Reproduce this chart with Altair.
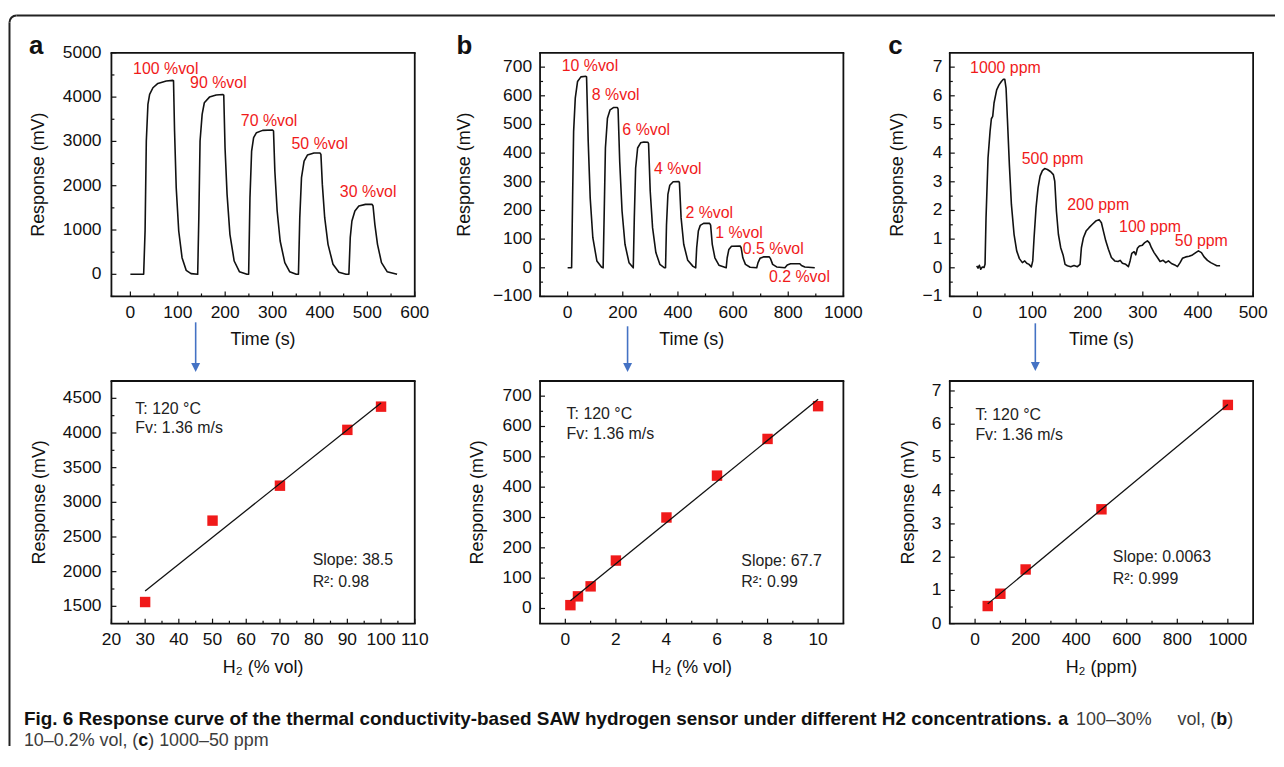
import altair as alt
import pandas as pd

FONT = "Liberation Sans"
RED = "#f01a1a"
BLUE = "#4472c4"
INK = "#111111"

# ---------------- panel a (top): time response, 100-30 %vol ----------------
a_curve = [(0, 0), (28, 0), (31, 980), (33.6, 3008), (37, 3835), (40.6, 4060), (47.6, 4211),
           (58, 4309), (75.7, 4362), (89.7, 4377), (91, 4370), (93.2, 3234), (96.7, 1955),
           (102, 978), (109, 376), (117.7, 90), (128, 15), (142, 0),
           (144.4, 1278), (147, 3008), (151.4, 3610), (156, 3873), (166.8, 4000), (181, 4046),
           (194.8, 4060), (197, 4046), (199.7, 2858), (204, 1805), (210, 902), (219, 300),
           (230, 60), (246, 0), (249.5, 0),
           (252.3, 1730), (255.8, 2782), (260, 3083), (266, 3196), (279, 3249), (300, 3256),
           (302, 3234), (304.8, 2331), (309.7, 1429), (316, 752), (325.8, 263), (336, 60),
           (350, 0), (354.6, 0),
           (357.4, 1278), (361, 2181), (366.5, 2557), (373.5, 2692), (387.5, 2737), (400, 2737),
           (402, 2707), (405, 2030), (410, 1278), (417, 677), (427.5, 226), (440, 45),
           (455, 0), (461, 0),
           (463.9, 827), (467.4, 1203), (473.7, 1429), (482, 1542), (496, 1579), (510, 1579),
           (512, 1542), (515.8, 1128), (521.4, 677), (529.8, 263), (541.7, 60), (562.7, 0)]
a_labels = ["100 %vol", "90 %vol", "70 %vol", "50 %vol", "30 %vol"]
a_lab_t = [5.6, 126, 233, 340, 442]
a_lab_v = [4640, 4309, 3459, 2948, 1865]

# ---------------- panel b (top): 10-0.2 %vol ----------------
b_curve = [(0, 0), (14.4, 0), (18, 244), (21.7, 476), (27.7, 592), (36, 650), (48, 666),
           (66, 668), (68.6, 666), (74.6, 441), (81.8, 244), (91.4, 105), (106, 24),
           (122.7, 3), (128.7, 0),
           (132.3, 175), (137, 418), (144.4, 522), (154, 551), (166, 559), (180.5, 559),
           (182.9, 554), (188.9, 369), (197.3, 198), (208, 82), (222.6, 18), (238, 0),
           (241.8, 175), (246.6, 348), (253.8, 418), (264.7, 436), (276.7, 439), (291, 438),
           (293.5, 433), (299.5, 267), (308, 140), (320, 53), (334.4, 12), (351.3, 0),
           (355, 0), (358.5, 150), (363.6, 256), (370.5, 288), (382.6, 300), (403, 301),
           (405.4, 297), (411.4, 175), (421, 82), (435.5, 26), (454.7, 5), (464.4, 0),
           (468, 70), (474, 128), (481, 148), (493, 155), (514.9, 155), (518.5, 149),
           (524.5, 82), (534, 35), (548.6, 9), (575, 0),
           (578.6, 35), (584.7, 64), (594.3, 75), (625.6, 76), (629.2, 70), (635.2, 35),
           (644.8, 12), (661.7, 2), (685.7, 0),
           (690.5, 18), (697.7, 33), (709.8, 38), (731.4, 38), (736.2, 31), (743.5, 12),
           (757.9, 3), (788, 0),
           (796.4, 10), (808.4, 14), (842, 14), (848, 8), (860.2, 3), (896.2, 0)]
b_labels = ["10 %vol", "8 %vol", "6 %vol", "4 %vol", "2 %vol", "1 %vol", "0.5 %vol", "0.2 %vol"]
b_lab_t = [-21.7, 87.8, 198.5, 312.8, 427, 535, 635, 730]
b_lab_v = [705.6, 603.6, 479.5, 345, 192, 120, 66.8, -30.5]

# ---------------- panel c (top): 1000-50 ppm ----------------
c_curve = [(-1.2, 0.07), (1.2, -0.01), (3.6, 0.09), (6, -0.05), (9, 0.03), (12.1, 0.01),
           (13.9, 0.12), (15.7, 1.75), (19.3, 3.83), (23, 4.76), (25.4, 5.2), (27.8, 5.28),
           (30.2, 5.75), (35, 6.21), (39.3, 6.38), (43.5, 6.5), (47.2, 6.58), (49.6, 6.58),
           (52, 6.27), (54.4, 5.22), (58, 3.6), (61.7, 2.21), (66.5, 1.17), (71.3, 0.59),
           (76.2, 0.32), (81.6, 0.18), (85.9, 0.24), (89.5, 0.16), (93.7, 0.12), (97.9, 0.03),
           (100.4, 0.24),
           (102.8, 1.05), (106.4, 2.1), (110, 2.79), (113.7, 3.2), (117.9, 3.39), (122, 3.46),
           (127, 3.43), (133, 3.35), (137.8, 3.25), (140.3, 3.02), (143.3, 1.98), (146.9, 1.17),
           (151.1, 0.7), (155.4, 0.45), (159, 0.12), (163.2, 0.07), (169.3, 0.04),
           (175.3, 0.08), (181.4, 0.04), (186.2, 0.12),
           (188.6, 0.7), (192.3, 1.05), (197.1, 1.28), (202.5, 1.4), (208.6, 1.52),
           (214.6, 1.63), (220.7, 1.68), (224.9, 1.57), (228.5, 1.28), (232.8, 0.94),
           (237.6, 0.65), (243, 0.36), (249.1, 0.24), (255.1, 0.22), (258.8, 0.26),
           (263, 0.16), (269, 0.12), (273.9, 0.04),
           (276.9, 0.24), (279.9, 0.5), (284.2, 0.56), (287.2, 0.45), (290.2, 0.68),
           (293.8, 0.76), (299.3, 0.79), (303.5, 0.88), (308.3, 0.94), (312, 0.87),
           (315.6, 0.7), (320.4, 0.53), (326.5, 0.36), (331.3, 0.22), (336.8, 0.26),
           (341.6, 0.18), (346.4, 0.24), (351.9, 0.15), (357.9, 0.1), (362.8, 0.04),
           (367.6, 0.18), (371.8, 0.33), (377.9, 0.38), (383.9, 0.4), (390, 0.45),
           (396, 0.53), (400.8, 0.59), (406.3, 0.53), (411.1, 0.38), (417.2, 0.26),
           (423.2, 0.18), (429.3, 0.12), (434.1, 0.07), (440.1, 0.07)]
c_labels = ["1000 ppm", "500 ppm", "200 ppm", "100 ppm", "50 ppm"]
c_lab_t = [-13.3, 80.4, 163, 257, 358]
c_lab_v = [6.96, 3.80, 2.18, 1.42, 0.94]

# ---------------- bottom panels: response vs concentration ----------------
a_conc = [30, 50, 70, 90, 100]
a_resp = [1562, 2736, 3240, 4045, 4380]
b_conc = [0.2, 0.5, 1, 2, 4, 6, 8, 10]
b_resp = [11, 40, 73, 158, 300, 438, 559, 667]
c_conc = [50, 100, 200, 500, 1000]
c_resp = [0.53, 0.90, 1.63, 3.44, 6.58]

cond_text = ["T: 120 °C", "Fv: 1.36 m/s"]
a_fit_text = ["Slope: 38.5", "R²: 0.98"]
b_fit_text = ["Slope: 67.7", "R²: 0.99"]
c_fit_text = ["Slope: 0.0063", "R²: 0.999"]
a_note_x, a_note_y, a_fit_x, a_fit_y = [27.1, 27.1], [4342, 4069], [79.7, 79.7], [2161, 1850]
b_note_x, b_note_y, b_fit_x, b_fit_y = [0.05, 0.05], [641, 575], [6.96, 6.96], [158, 87]
c_note_x, c_note_y, c_fit_x, c_fit_y = [1.3, 1.3], [6.28, 5.68], [545, 545], [1.99, 1.35]

# ---------------- axis ticks (major with labels, minor without) ----------------
a_top_xt, a_top_xm = [0, 100, 200, 300, 400, 500, 600], [50, 150, 250, 350, 450, 550]
a_top_yt, a_top_ym = [0, 1000, 2000, 3000, 4000, 5000], [-500, 500, 1500, 2500, 3500, 4500]
b_top_xt, b_top_xm = [0, 200, 400, 600, 800, 1000], [100, 300, 500, 700, 900]
b_top_yt = [-100, 0, 100, 200, 300, 400, 500, 600, 700]
b_top_ym = [-50, 50, 150, 250, 350, 450, 550, 650]
c_top_xt, c_top_xm = [0, 100, 200, 300, 400, 500], [50, 150, 250, 350, 450]
c_top_yt = [-1, 0, 1, 2, 3, 4, 5, 6, 7]
c_top_ym = [-0.5, 0.5, 1.5, 2.5, 3.5, 4.5, 5.5, 6.5]
a_bot_xt = [20, 30, 40, 50, 60, 70, 80, 90, 100, 110]
a_bot_xm = [25, 35, 45, 55, 65, 75, 85, 95, 105]
a_bot_yt, a_bot_ym = [1500, 2000, 2500, 3000, 3500, 4000, 4500], [1750, 2250, 2750, 3250, 3750, 4250]
b_bot_xt, b_bot_xm = [0, 2, 4, 6, 8, 10], [1, 3, 5, 7, 9]
b_bot_yt = [0, 100, 200, 300, 400, 500, 600, 700]
b_bot_ym = [50, 150, 250, 350, 450, 550, 650]
c_bot_xt, c_bot_xm = [0, 200, 400, 600, 800, 1000], [100, 300, 500, 700, 900]
c_bot_yt = [0, 1, 2, 3, 4, 5, 6, 7]
c_bot_ym = [0.5, 1.5, 2.5, 3.5, 4.5, 5.5, 6.5]

# caption segments (text, weight, size)
cap1 = [("Fig. 6 Response curve of the thermal conductivity-based SAW hydrogen sensor "
         "under different H2 concentrations.", "bold", 19),
        ("a", "bold", 18), ("100–30%", "normal", 18), ("vol, (", "normal", 18),
        ("b", "bold", 18), (")", "normal", 18)]
cap1_x = [-88, 952, 970, 1072, 1111, 1122]
cap2 = [("10–0.2% vol, (", "normal", 18), ("c", "bold", 18), (") 1000–50 ppm", "normal", 18)]
cap2_x = [-88, 27, 37]

W, HT, HB = 305, 245, 244
LBL = 17.5


def scl(dom):
    return alt.Scale(domain=dom, nice=False, zero=False)


def fmt(v):
    return f"{v:g}".replace("-", "\u2212")


def one():
    return pd.DataFrame({"d": [0]})


def X(field, xs):
    return alt.X(field, scale=xs, axis=None)


def Y(field, ys):
    return alt.Y(field, scale=ys, axis=None)


def tick_layers(xs, ys, xmaj, xmin_, ymaj, ymin_, h):
    out = []
    for vals, ln in ((xmaj, 5), (xmin_, 3)):
        out.append(alt.Chart(pd.DataFrame({"tv": vals})).mark_rule(color=INK, strokeWidth=1.2).encode(
            x=X("tv:Q", xs), y=alt.value(h), y2=alt.value(h - ln)))
    for vals, ln in ((ymaj, 5), (ymin_, 3)):
        out.append(alt.Chart(pd.DataFrame({"tv": vals})).mark_rule(color=INK, strokeWidth=1.2).encode(
            y=Y("tv:Q", ys), x=alt.value(0), x2=alt.value(ln)))
    return out


def label_layers(xs, ys, xmaj, ymaj, h, ypad):
    xdf = pd.DataFrame({"tv": xmaj, "tl": [fmt(v) for v in xmaj]})
    ydf = pd.DataFrame({"tv": ymaj, "tl": [fmt(v) for v in ymaj]})
    return [
        alt.Chart(xdf).mark_text(align="center", baseline="alphabetic", font=FONT,
                                 fontSize=LBL, color=INK).encode(
            x=X("tv:Q", xs), y=alt.value(h + 21.5), text="tl:N"),
        alt.Chart(ydf).mark_text(align="right", baseline="middle", font=FONT,
                                 fontSize=LBL, color=INK).encode(
            y=Y("tv:Q", ys), x=alt.value(-ypad), text="tl:N"),
    ]


def title_layers(xtitle, h, xoff, ytx):
    return [
        alt.Chart(one()).mark_text(text=xtitle, align="center", baseline="alphabetic", font=FONT,
                                   fontSize=18, color=INK).encode(
            x=alt.value(W / 2), y=alt.value(h + xoff)),
        alt.Chart(one()).mark_text(text="Response (mV)", align="center", baseline="middle",
                                   angle=270, font=FONT, fontSize=18, color=INK).encode(
            x=alt.value(ytx), y=alt.value(h / 2)),
    ]


def text_layer(xs, ys, xv, yv, labels, color, size):
    df = pd.DataFrame({"lx": xv, "ly": yv, "lab": labels})
    return alt.Chart(df).mark_text(align="left", baseline="middle", font=FONT,
                                   fontSize=size, color=color).encode(
        x=X("lx:Q", xs), y=Y("ly:Q", ys), text="lab:N")


def px_text(x, y, s, size, weight="normal", color=INK):
    return alt.Chart(one()).mark_text(text=s, align="left", baseline="alphabetic", font=FONT,
                                      fontSize=size, fontWeight=weight, color=color).encode(
        x=alt.value(x), y=alt.value(y))


def px_rule(x1, y1, x2, y2, color, width):
    return alt.Chart(one()).mark_rule(color=color, strokeWidth=width).encode(
        x=alt.value(x1), y=alt.value(y1), x2=alt.value(x2), y2=alt.value(y2))


def frame_rules(h):
    # plot-area frame drawn as four rules
    return [px_rule(-0.9, 0, W + 0.9, 0, INK, 1.8), px_rule(-0.9, h, W + 0.9, h, INK, 1.8),
            px_rule(0, 0, 0, h, INK, 1.8), px_rule(W, 0, W, h, INK, 1.8)]


def arrow(x, y1, y2):
    return [px_rule(x, y1, x, y2, BLUE, 1.6),
            alt.Chart(one()).mark_point(shape="M-1,-1L1,-1L0,1Z", filled=True, size=81,
                                        color=BLUE, opacity=1).encode(
                x=alt.value(x), y=alt.value(y2 + 3.5))]


def top_panel(curve, xdom, ydom, xt, xm, yt, ym, lt, lv, labs, ypad, ytx, extra):
    xs, ys = scl(xdom), scl(ydom)
    t, v = zip(*curve)
    line = alt.Chart(pd.DataFrame({"t": t, "v": v})).mark_line(
        color=INK, strokeWidth=1.6, strokeJoin="round").encode(
        x=X("t:Q", xs), y=Y("v:Q", ys))
    layers = ([line]
              + label_layers(xs, ys, xt, yt, HT, ypad)
              + title_layers("Time (s)", HT, 48.5, ytx)
              + [text_layer(xs, ys, lt, lv, labs, RED, 16)] + extra
              + tick_layers(xs, ys, xt, xm, yt, ym, HT) + frame_rules(HT))
    return alt.layer(*layers).properties(width=W, height=HT)


def bottom_panel(conc, resp, xdom, ydom, xt, xm, yt, ym, xtitle, nx, ny, fx, fy, fit_text,
                 ypad, ytx, extra):
    xs, ys = scl(xdom), scl(ydom)
    df = pd.DataFrame({"x": conc, "y": resp})
    base = alt.Chart(df)
    pts = base.mark_square(size=110, color=RED, opacity=1).encode(
        x=X("x:Q", xs), y=Y("y:Q", ys))
    fit = base.transform_regression("x", "y").mark_line(color=INK, strokeWidth=1.3).encode(
        x=X("x:Q", xs), y=Y("y:Q", ys))
    layers = ([pts, fit]
              + label_layers(xs, ys, xt, yt, HB, ypad)
              + title_layers(xtitle, HB, 50, ytx)
              + [text_layer(xs, ys, nx, ny, cond_text, "#222222", 16),
                 text_layer(xs, ys, fx, fy, fit_text, "#222222", 16)] + extra
              + tick_layers(xs, ys, xt, xm, yt, ym, HB) + frame_rules(HB))
    return alt.layer(*layers).properties(width=W, height=HB)


def spacer(w):
    return alt.Chart(one()).mark_point(opacity=0).properties(width=w, height=10)


# decorations: figure frame (left + top edges with a rounded corner)
BOX = "#222222"
frame = [
    px_rule(-95.5, -37.5, 1170, -37.5, BOX, 2),
    px_rule(-102.5, -30.5, -102.5, 697, BOX, 2),
    alt.Chart(one()).mark_arc(radius=8, radius2=6, theta=4.712389, theta2=6.283185,
                              color=BOX).encode(x=alt.value(-95.5), y=alt.value(-30.5)),
]

a_top = top_panel(a_curve, [-40, 600], [-500, 5000], a_top_xt, a_top_xm, a_top_yt, a_top_ym,
                  a_lab_t, a_lab_v, a_labels, 10, -72.5,
                  frame + [px_text(-83, 1, "a", 26, "bold")])
b_top = top_panel(b_curve, [-100, 1000], [-100, 750], b_top_xt, b_top_xm, b_top_yt, b_top_ym,
                  b_lab_t, b_lab_v, b_labels, 8, -75.5, [px_text(-84, 1, "b", 26, "bold")])
c_top = top_panel(c_curve, [-50, 500], [-1, 7.5], c_top_xt, c_top_xm, c_top_yt, c_top_ym,
                  c_lab_t, c_lab_v, c_labels, 7.5, -52, [px_text(-62, 1, "c", 26, "bold")])

caption = []
for (s, wgt, sz), x in zip(cap1, cap1_x):
    caption.append(px_text(x, 346, s, sz, wgt, INK if wgt == "bold" else "#3c3c3c"))
for (s, wgt, sz), x in zip(cap2, cap2_x):
    caption.append(px_text(x, 367, s, sz, wgt, INK if wgt == "bold" else "#3c3c3c"))

a_bot = bottom_panel(a_conc, a_resp, [20, 110], [1250, 4750], a_bot_xt, a_bot_xm, a_bot_yt,
                     a_bot_ym, "H₂ (% vol)", a_note_x, a_note_y, a_fit_x, a_fit_y, a_fit_text,
                     10, -72, arrow(84.7, -59, -17) + caption)
b_bot = bottom_panel(b_conc, b_resp, [-1, 11], [-50, 750], b_bot_xt, b_bot_xm, b_bot_yt,
                     b_bot_ym, "H₂ (% vol)", b_note_x, b_note_y, b_fit_x, b_fit_y, b_fit_text,
                     8.5, -62, arrow(88, -55, -17))
c_bot = bottom_panel(c_conc, c_resp, [-100, 1100], [0, 7.3], c_bot_xt, c_bot_xm, c_bot_yt,
                     c_bot_ym, "H₂ (ppm)", c_note_x, c_note_y, c_fit_x, c_fit_y, c_fit_text,
                     8.5, -41.5, arrow(86, -58, -18))

chart = alt.concat(
    a_top, spacer(126), b_top, spacer(107), c_top,
    a_bot, spacer(126), b_bot, spacer(107), c_bot,
    columns=5, spacing={"row": 85, "column": 0}, bounds="flush", align="each",
).properties(
    padding={"left": 0, "top": 4, "right": 0, "bottom": 0}
).configure_view(
    stroke="transparent", strokeWidth=0
)

chart.save("out.html", embed_options={"renderer": "svg", "actions": False})
